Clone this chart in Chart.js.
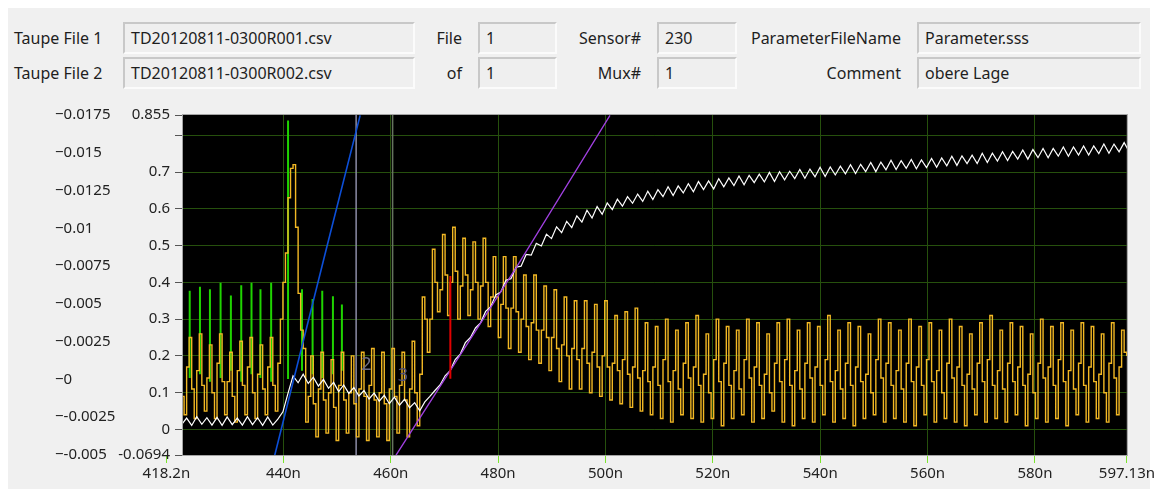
<!DOCTYPE html>
<html>
<head>
<meta charset="utf-8">
<script src="https://cdn.jsdelivr.net/npm/chart.js@4.4.1/dist/chart.umd.min.js"></script>
<style>
  html, body { margin: 0; background: #fff; }
  #panel { position: absolute; left: 8px; top: 8px; width: 1142px; height: 481px; background: #f0f0f0; }
  .lbl, .box { position: absolute; font: 16px 'Noto Sans', sans-serif; color: #1e1e1e; white-space: nowrap; }
  .lbl { height: 32px; line-height: 32px; text-align: right; }
  .box {
    box-sizing: border-box; height: 32px; line-height: 28px; padding-left: 6px;
    border: 2px solid; border-color: #c8c8c8 #fbfbfb #fbfbfb #c8c8c8; background: #efefef;
  }
  #wrap { position: absolute; left: 8px; top: 100px; }
</style>
</head>
<body>
<div id="panel"></div>

<div class="lbl" style="left:14px;top:22px;text-align:left">Taupe File 1</div>
<div class="lbl" style="left:14px;top:57px;text-align:left">Taupe File 2</div>
<div class="box" style="left:123px;top:22px;width:292px">TD20120811-0300R001.csv</div>
<div class="box" style="left:123px;top:57px;width:292px">TD20120811-0300R002.csv</div>

<div class="lbl" style="left:400px;top:22px;width:62px">File</div>
<div class="lbl" style="left:400px;top:57px;width:62px">of</div>
<div class="box" style="left:478px;top:22px;width:79px">1</div>
<div class="box" style="left:478px;top:57px;width:79px">1</div>

<div class="lbl" style="left:560px;top:22px;width:81px">Sensor#</div>
<div class="lbl" style="left:560px;top:57px;width:81px">Mux#</div>
<div class="box" style="left:657px;top:22px;width:80px">230</div>
<div class="box" style="left:657px;top:57px;width:80px">1</div>

<div class="lbl" style="left:740px;top:22px;width:161px">ParameterFileName</div>
<div class="lbl" style="left:740px;top:57px;width:161px">Comment</div>
<div class="box" style="left:917px;top:22px;width:224px">Parameter.sss</div>
<div class="box" style="left:917px;top:57px;width:224px">obere Lage</div>

<div id="wrap"><canvas id="graph" width="1149" height="389"></canvas></div>

<script>
// time axis (n)
const T0 = 418.2
const X_MAX = 597.13
const X_SHOWN_MIN = 421.3
const xTicks = [418.2, 440, 460, 480, 500, 520, 540, 560, 580, 597.13]

// amplitude axis
const Y_MIN = -0.0694
const Y_MAX = 0.855
const yTicks = [-0.0694, 0, 0.1, 0.2, 0.3, 0.4, 0.5, 0.6, 0.7, 0.8, 0.855]

// second (outer) scale
const y2Ticks = [-0.005, -0.0025, 0, 0.0025, 0.005, 0.0075, 0.01, 0.0125, 0.015, 0.0175]

// yellow waveform, sampled every yellowDt from T0
const yellowDt = 0.472
const yellow = [
  0.14, 0.22, 0.10, 0.03,  0.15, 0.24, 0.09, 0.04,
  0.17, 0.25, 0.11, 0.03,  0.16, 0.26, 0.12, 0.05,
  0.14, 0.23, 0.10, 0.03,  0.18, 0.26, 0.13, 0.04,
  0.13, 0.21, 0.09, 0.02,  0.16, 0.24, 0.12, 0.04,
  0.17, 0.25, 0.10, 0.03,  0.15, 0.23, 0.11, 0.04,
  0.17, 0.25, 0.12, 0.05,  0.18, 0.30, 0.40, 0.48,
  0.63, 0.71, 0.72, 0.55,  0.37, 0.27, 0.22, 0.02,
  0.09, 0.20, 0.07, -0.02, 0.11, 0.21, 0.08, -0.01,
  0.10, 0.19, 0.06, -0.03, 0.12, 0.21, 0.08, -0.01,
  0.10, 0.20, 0.07, -0.02, 0.11, 0.21, 0.09, -0.03,
  0.12, 0.22, 0.08, -0.02, 0.10, 0.21, 0.07, -0.03,
  0.11, 0.22, 0.09, -0.01, 0.12, 0.21, 0.08, -0.02,
  0.11, 0.24, 0.10, 0.01,  0.15, 0.36, 0.30, 0.21,
  0.30, 0.49, 0.40, 0.32,  0.38, 0.53, 0.42, 0.31,
  0.40, 0.55, 0.43, 0.30,  0.39, 0.52, 0.42, 0.31,
  0.38, 0.51, 0.40, 0.30,  0.39, 0.52, 0.40, 0.28,
  0.36, 0.47, 0.36, 0.25,  0.34, 0.47, 0.33, 0.22,
  0.33, 0.47, 0.32, 0.21,  0.30, 0.42, 0.28, 0.19,
  0.29, 0.42, 0.27, 0.18,  0.27, 0.39, 0.25, 0.16,
  0.25, 0.38, 0.22, 0.13,  0.23, 0.36, 0.20, 0.11,
  0.22, 0.35, 0.19, 0.11,  0.22, 0.35, 0.18, 0.10,
  0.21, 0.34, 0.17, 0.09,  0.20, 0.35, 0.17, 0.08,
  0.18, 0.31, 0.16, 0.07,  0.19, 0.32, 0.15, 0.06,
  0.17, 0.33, 0.14, 0.05,  0.16, 0.29, 0.13, 0.04,
  0.17, 0.28, 0.12, 0.03,  0.19, 0.30, 0.13, 0.02,
  0.16, 0.27, 0.11, 0.04,  0.18, 0.29, 0.14, 0.03,
  0.17, 0.31, 0.12, 0.02,  0.15, 0.26, 0.10, 0.03,
  0.19, 0.30, 0.13, 0.01,  0.18, 0.28, 0.12, 0.03,
  0.16, 0.27, 0.11, 0.04,  0.19, 0.30, 0.14, 0.02,
  0.17, 0.29, 0.12, 0.03,  0.15, 0.26, 0.10, 0.05,
  0.18, 0.29, 0.13, 0.02,  0.19, 0.30, 0.12, 0.01,
  0.16, 0.27, 0.11, 0.03,  0.18, 0.29, 0.14, 0.02,
  0.17, 0.28, 0.12, 0.04,  0.19, 0.31, 0.13, 0.02,
  0.16, 0.27, 0.11, 0.03,  0.18, 0.29, 0.12, 0.01,
  0.17, 0.28, 0.13, 0.03,  0.15, 0.26, 0.10, 0.04,
  0.19, 0.30, 0.14, 0.02,  0.18, 0.29, 0.12, 0.03,
  0.16, 0.27, 0.11, 0.02,  0.18, 0.30, 0.13, 0.01,
  0.17, 0.28, 0.12, 0.04,  0.19, 0.29, 0.13, 0.02,
  0.16, 0.27, 0.10, 0.03,  0.18, 0.30, 0.14, 0.02,
  0.17, 0.28, 0.12, 0.01,  0.15, 0.26, 0.11, 0.04,
  0.18, 0.29, 0.13, 0.02,  0.19, 0.31, 0.12, 0.03,
  0.16, 0.27, 0.11, 0.02,  0.18, 0.29, 0.13, 0.04,
  0.17, 0.28, 0.12, 0.01,  0.15, 0.26, 0.10, 0.03,
  0.18, 0.30, 0.14, 0.02,  0.17, 0.28, 0.12, 0.03,
  0.19, 0.29, 0.13, 0.01,  0.16, 0.27, 0.11, 0.04,
  0.18, 0.29, 0.12, 0.02,  0.17, 0.28, 0.13, 0.03,
  0.15, 0.26, 0.10, 0.02,  0.18, 0.29, 0.14, 0.04,
  0.17, 0.27, 0.21, 0.20
]

// white waveform, sampled every whiteDt from T0
const whiteDt = 0.944
const white = [
  0.032, 0.012, 0.034, 0.013, 0.031, 0.011, 0.035, 0.014, 0.032, 0.012,
  0.033, 0.011, 0.034, 0.013, 0.031, 0.012, 0.035, 0.013, 0.032, 0.011,
  0.034, 0.012, 0.028, 0.048, 0.098, 0.146, 0.127, 0.150, 0.125, 0.142,
  0.118, 0.136, 0.112, 0.128, 0.103, 0.121, 0.098, 0.114, 0.091, 0.106,
  0.083, 0.099, 0.077, 0.093, 0.070, 0.088, 0.066, 0.082, 0.059, 0.073,
  0.051, 0.075, 0.090, 0.106, 0.121, 0.146, 0.160, 0.190, 0.205, 0.236,
  0.250, 0.276, 0.290, 0.321, 0.334, 0.366, 0.374, 0.406, 0.410, 0.441,
  0.444, 0.476, 0.474, 0.506, 0.499, 0.531, 0.519, 0.551, 0.535, 0.566,
  0.549, 0.581, 0.564, 0.596, 0.575, 0.606, 0.585, 0.616, 0.598, 0.626,
  0.607, 0.633, 0.615, 0.640, 0.620, 0.648, 0.625, 0.652, 0.633, 0.660,
  0.636, 0.662, 0.643, 0.668, 0.646, 0.674, 0.652, 0.676, 0.654, 0.682,
  0.660, 0.684, 0.663, 0.689, 0.665, 0.691, 0.671, 0.694, 0.673, 0.699,
  0.674, 0.701, 0.679, 0.702, 0.682, 0.707, 0.683, 0.708, 0.687, 0.713,
  0.688, 0.714, 0.692, 0.716, 0.695, 0.720, 0.696, 0.721, 0.701, 0.726,
  0.701, 0.727, 0.706, 0.732, 0.707, 0.731, 0.710, 0.734, 0.709, 0.733,
  0.712, 0.737, 0.713, 0.738, 0.717, 0.743, 0.718, 0.744, 0.723, 0.746,
  0.723, 0.751, 0.726, 0.751, 0.730, 0.755, 0.731, 0.756, 0.735, 0.760,
  0.735, 0.761, 0.739, 0.764, 0.739, 0.764, 0.743, 0.768, 0.743, 0.768,
  0.746, 0.771, 0.746, 0.771, 0.750, 0.776, 0.751, 0.776, 0.755, 0.780, 0.755
]

// green spikes
const spikeX = [422.55, 424.46, 426.32, 428.30, 430.22, 432.15, 434.06, 435.73, 437.72, 440.87, 443.47, 445.44, 447.24, 449.23, 450.90]
const spikeTop = [0.377, 0.388, 0.381, 0.399, 0.364, 0.392, 0.399, 0.381, 0.399, 0.840, 0.381, 0.355, 0.377, 0.362, 0.340]
const spikeBottom = [0.14, 0.15, 0.13, 0.14, 0.16, 0.13, 0.15, 0.14, 0.13, 0.137, 0.16, 0.15, 0.14, 0.15, 0.16]

// straight fit lines
const blueX = [438.39, 448.17, 454.30]
const blueY = [-0.070, 0.501, 0.854]
const purpleX = [460.98, 483.63, 500.84]
const purpleY = [-0.070, 0.446, 0.854]

// red marker
const redX = [471.1, 471.1]
const redY = [0.417, 0.138]

// cursors
const cursorX = [453.55, 460.35]
const cursorNames = ['2', '3']
const cursorNameY = [0.175, 0.145]
const cursorColors = ['#8c8ca6', '#66745f']
const cursorTextColors = ['#6e6e86', '#52527a']

const GRID = '#26500d'

const wave = (dt, ys) => ys.map((y, i) => ({ x: T0 + i * dt, y }))
const pairs = (xs, ys) => xs.map((x, i) => ({ x, y: ys[i] }))
const spikes = spikeX.flatMap((x, i) => [{ x, y: spikeBottom[i] }, { x, y: spikeTop[i] }, { x, y: null }])
const cursorSets = cursorX.map((x, i) => ({
  data: [{ x, y: Y_MIN }, { x, y: Y_MAX }],
  borderColor: cursorColors[i],
  borderWidth: 1.5
}))

const plotFrame = {
  id: 'plotFrame',
  beforeDraw(chart) {
    const { ctx, chartArea: a } = chart
    ctx.save()
    ctx.fillStyle = '#000'
    ctx.fillRect(a.left, a.top, a.right - a.left, a.bottom - a.top)
    ctx.restore()
  },
  afterDatasetsDraw(chart) {
    const { ctx, scales } = chart
    ctx.save()
    ctx.font = "18px 'Noto Sans', sans-serif"
    ctx.textBaseline = 'middle'
    cursorX.forEach((x, i) => {
      ctx.fillStyle = cursorTextColors[i]
      ctx.fillText(cursorNames[i], scales.x.getPixelForValue(x) + 5, scales.y.getPixelForValue(cursorNameY[i]))
    })
    ctx.restore()
  },
  afterDraw(chart) {
    const { ctx, chartArea: a } = chart
    ctx.save()
    ctx.strokeStyle = '#a4a4a4'
    ctx.lineWidth = 1
    ctx.strokeRect(a.left - 0.5, a.top - 0.5, a.right - a.left + 1, a.bottom - a.top + 1)
    ctx.restore()
  }
}

Chart.defaults.font.family = "'Noto Sans', sans-serif"
Chart.defaults.font.size = 15
Chart.defaults.color = '#222'

const isEdge = (v, list) => v === list[0] || v === list[list.length - 1]

new Chart(document.getElementById('graph'), {
  type: 'line',
  data: {
    datasets: [
      { data: pairs(redX, redY), borderColor: '#e00000', borderWidth: 2 },
      { data: pairs(purpleX, purpleY), borderColor: '#a040e0', borderWidth: 1.3 },
      { data: pairs(blueX, blueY), borderColor: '#0c4fd8', borderWidth: 1.6 },
      { data: wave(whiteDt, white), borderColor: '#ffffff', borderWidth: 1.2 },
      { data: wave(yellowDt, yellow), borderColor: '#f2b824', borderWidth: 1.4, stepped: true },
      { data: spikes, borderColor: '#1fd400', borderWidth: 2 },
      ...cursorSets
    ]
  },
  options: {
    responsive: false,
    devicePixelRatio: 1,
    animation: false,
    layout: { padding: { left: 47, top: 15, right: 28, bottom: 0 } },
    elements: { point: { radius: 0 }, line: { tension: 0 } },
    plugins: { legend: { display: false }, tooltip: { enabled: false } },
    scales: {
      x: {
        type: 'linear',
        min: X_SHOWN_MIN,
        max: X_MAX,
        afterBuildTicks: (s) => { s.ticks = xTicks.map(v => ({ value: v })) },
        afterFit: (s) => { s.height = 34 },
        border: { display: false },
        grid: {
          color: (c) => (c.tick && isEdge(c.tick.value, xTicks)) ? 'transparent' : GRID,
          tickColor: '#7be52d',
          tickLength: 8
        },
        ticks: {
          autoSkip: false,
          maxRotation: 0,
          padding: 2,
          callback: (v) => Number(v.toFixed(2)) + 'n'
        }
      },
      y: {
        type: 'linear',
        position: 'left',
        weight: 0,
        min: Y_MIN,
        max: Y_MAX,
        afterBuildTicks: (s) => { s.ticks = yTicks.map(v => ({ value: v })) },
        afterFit: (s) => { s.width = 128 },
        border: { display: false },
        grid: {
          color: (c) => (c.tick && isEdge(c.tick.value, yTicks)) ? 'transparent' : GRID,
          tickColor: '#555',
          tickLength: 8
        },
        ticks: {
          autoSkip: false,
          padding: 5,
          callback: (v) => v === 0.8 ? '' : String(v)
        }
      },
      y2: {
        type: 'linear',
        axis: 'y',
        position: 'left',
        weight: 1,
        min: -0.005,
        max: 0.0175,
        afterBuildTicks: (s) => { s.ticks = y2Ticks.map(v => ({ value: v })) },
        afterFit: (s) => { s.width = 0 },
        border: { display: false },
        grid: { display: false },
        ticks: {
          autoSkip: false,
          mirror: true,
          padding: 0,
          crossAlign: 'near',
          callback: (v) => '\u2212' + String(Number(v.toFixed(4)))
        }
      }
    }
  },
  plugins: [plotFrame]
})
</script>
</body>
</html>
